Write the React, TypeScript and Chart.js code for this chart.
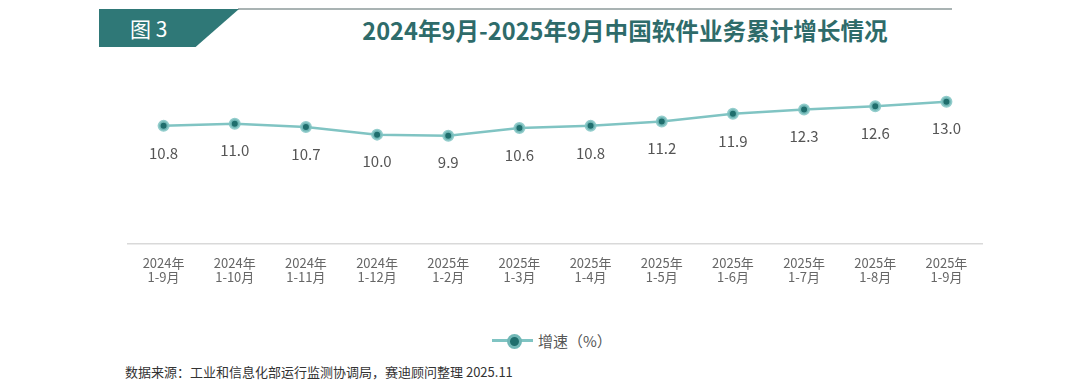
import React, { useEffect, useRef } from "react";
import { Chart, registerables } from "chart.js";

Chart.register(...registerables);

const categories: string[][] = [
  ["2024年", "1-9月"],
  ["2024年", "1-10月"],
  ["2024年", "1-11月"],
  ["2024年", "1-12月"],
  ["2025年", "1-2月"],
  ["2025年", "1-3月"],
  ["2025年", "1-4月"],
  ["2025年", "1-5月"],
  ["2025年", "1-6月"],
  ["2025年", "1-7月"],
  ["2025年", "1-8月"],
  ["2025年", "1-9月"],
];
const growthValues: number[] = [10.8, 11.0, 10.7, 10.0, 9.9, 10.6, 10.8, 11.2, 11.9, 12.3, 12.6, 13.0];
const seriesName = "增速（%）";
const titleText = "2024年9月-2025年9月中国软件业务累计增长情况";
const figureLabel = "图 3";
const sourceText = "数据来源：工业和信息化部运行监测协调局，赛迪顾问整理 2025.11";

const FONT = '"Noto Sans CJK SC", "Noto Sans", sans-serif';
const LINE = "#80c4c3";
const DOT = "#1f6e6d";
const TEAL = "#2f7877";

const labelPlugin = {
  id: "valueLabels",
  afterDatasetsDraw(chart: any) {
    const ctx = chart.ctx;
    const meta = chart.getDatasetMeta(0);
    ctx.save();
    ctx.font = `15px ${FONT}`;
    ctx.fillStyle = "#555555";
    ctx.textAlign = "center";
    ctx.textBaseline = "middle";
    meta.data.forEach((pt: any, i: number) => {
      const v = chart.data.datasets[0].data[i] as number;
      ctx.fillText(v.toFixed(1), pt.x, pt.y + 27);
    });
    ctx.restore();
  },
};

export default function App() {
  const ref = useRef<HTMLCanvasElement>(null);
  useEffect(() => {
    document.body.style.margin = "0";
    const chart = new Chart(ref.current!, {
      type: "line",
      data: {
        labels: categories,
        datasets: [
          {
            label: seriesName,
            data: growthValues,
            borderColor: LINE,
            borderWidth: 2.5,
            pointBackgroundColor: DOT,
            pointBorderColor: "rgba(128,196,195,0.85)",
            pointBorderWidth: 3,
            pointRadius: 4.5,
            tension: 0,
          },
        ],
      },
      options: {
        animation: false,
        responsive: false,
        maintainAspectRatio: false,
        layout: { padding: { left: 128, right: 98, top: 58, bottom: 4 } },
        plugins: { legend: { display: false }, tooltip: { enabled: false } },
        scales: {
          x: {
            offset: true,
            grid: { display: false, drawTicks: false },
            border: { display: true, color: "#d9d9d9", width: 1.5 },
            ticks: {
              padding: 11,
              color: "#666666",
              font: { family: FONT, size: 13, lineHeight: 1.15 },
              maxRotation: 0,
              autoSkip: false,
            },
          },
          y: { display: false, min: 0, max: 17 },
        },
      },
      plugins: [labelPlugin],
    });
    return () => chart.destroy();
  }, []);

  return (
    <div style={{ position: "relative", width: 1080, height: 382, background: "#fff", overflow: "hidden", fontFamily: FONT }}>
      <div style={{ position: "absolute", left: 238, top: 8, width: 714, height: 2, background: "#a9b3b3" }} />
      <div
        style={{
          position: "absolute",
          left: 99,
          top: 9,
          width: 140,
          height: 38,
          background: TEAL,
          clipPath: "polygon(0 0, 100% 0, 69% 100%, 0 100%)",
        }}
      />
      <div style={{ position: "absolute", left: 130, top: 9, height: 38, lineHeight: "38px", color: "#fff", fontSize: 21 }}>
        {figureLabel}
      </div>
      <div
        style={{
          position: "absolute",
          left: 0,
          width: 1250,
          top: 13,
          textAlign: "center",
          color: "#2e6b6a",
          fontSize: 23.6,
          fontWeight: 700,
          lineHeight: "34px",
        }}
      >
        {titleText}
      </div>
      <canvas ref={ref} width={1080} height={300} style={{ position: "absolute", left: 0, top: 0 }} />
      <div style={{ position: "absolute", left: 492, top: 330, height: 20, display: "flex", alignItems: "center" }}>
        <div style={{ position: "relative", width: 41, height: 20 }}>
          <div style={{ position: "absolute", left: 0, top: 9, width: 41, height: 2.5, background: LINE }} />
          <div
            style={{
              position: "absolute",
              left: 15,
              top: 4,
              width: 9,
              height: 9,
              borderRadius: "50%",
              background: DOT,
              border: "3px solid rgba(128,196,195,0.85)",
            }}
          />
        </div>
        <div style={{ marginLeft: 5, color: "#555", fontSize: 15 }}>{seriesName}</div>
      </div>
      <div style={{ position: "absolute", left: 125, top: 362, color: "#333", fontSize: 13, lineHeight: "20px" }}>
        {sourceText}
      </div>
    </div>
  );
}
